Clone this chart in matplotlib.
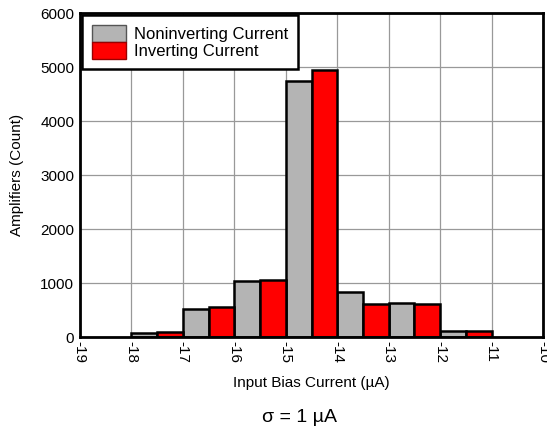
import matplotlib
matplotlib.use("Agg")
import matplotlib.pyplot as plt
import numpy as np

plt.rcParams['font.family'] = ['Liberation Sans', 'DejaVu Sans']

bin_left = [-18, -17, -16, -15, -14, -13, -12]
noninv = [75, 520, 1045, 4750, 840, 625, 118]
inv = [95, 555, 1060, 4945, 615, 620, 112]
xticks = list(range(-19, -9))

fig = plt.figure(figsize=(5.47, 4.28), dpi=100)
ax = fig.add_axes([0.146, 0.2126, 0.847, 0.757])

x = np.array(bin_left, dtype=float)
ax.bar(x, noninv, width=0.5, align='edge', color='#b4b4b4', edgecolor='black',
       linewidth=1.8, label='Noninverting Current', zorder=3)
ax.bar(x + 0.5, inv, width=0.5, align='edge', color='#ff0000', edgecolor='black',
       linewidth=1.8, label='Inverting Current', zorder=3)

ax.set_xlim(-19, -10)
ax.set_ylim(0, 6000)
ax.set_xticks(xticks)
ax.set_xticklabels([str(t) for t in xticks], rotation=-90, fontsize=11)
ax.set_yticks(range(0, 6001, 1000))
ax.tick_params(axis='y', labelsize=11, length=0, pad=4)
ax.tick_params(axis='x', length=0, pad=3)
ax.grid(True, color='#999999', linewidth=0.9, zorder=0)
for s in ax.spines.values():
    s.set_linewidth(2)
    s.set_zorder(5)

ax.set_xlabel('Input Bias Current (µA)', fontsize=11, labelpad=9)
ax.set_ylabel('Amplifiers (Count)', fontsize=11, labelpad=12)

leg = ax.legend(loc='upper left', bbox_to_anchor=(0.0, 1.0), fontsize=12,
                fancybox=False, framealpha=1, edgecolor='black',
                handlelength=2.05, handleheight=1.2, handletextpad=0.5,
                labelspacing=0.0, borderpad=0.6, borderaxespad=0.1)
leg.get_frame().set_linewidth(1.8)
leg.set_zorder(10)
for h, ec in zip(leg.legend_handles, ['#555555', '#990000']):
    h.set_edgecolor(ec)
    h.set_linewidth(1.0)

fig.text(0.547, 0.014, 'σ = 1 µA', ha='center', va='baseline', fontsize=14)

fig.savefig('out.png', dpi=100)
